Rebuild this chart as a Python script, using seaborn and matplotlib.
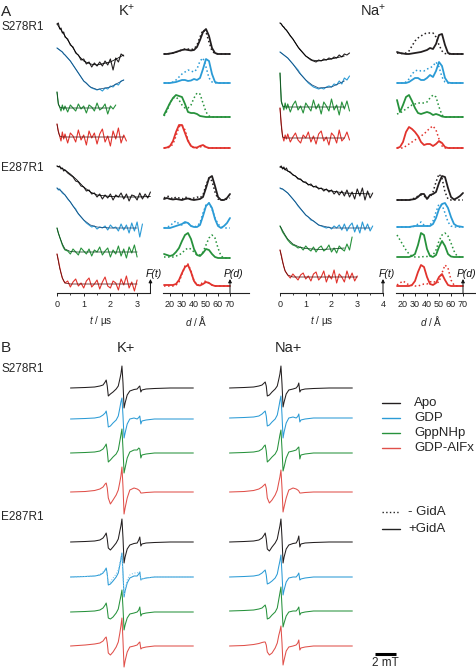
import numpy as np
import matplotlib
matplotlib.use("Agg")
import matplotlib.pyplot as plt
from matplotlib.lines import Line2D
import seaborn as sns

# ====================== DATA ======================
# DEER time axis (µs) and fit sampling
T_GRID = [0, 0.05, 0.1, 0.15, 0.2, 0.25] + [round(0.3 + 0.1 * i, 2) for i in range(35)]
FIT_T = [0, 0.05, 0.1, 0.2, 0.3, 0.5, 0.75, 1.0, 1.25, 1.5, 2.0, 2.5, 3.0, 3.5]
# distance axis (Å)
D_GRID = [15, 17.5, 20, 22.5, 25, 27.5, 30, 32.5, 35, 37.5, 40, 42.5, 45, 47.5,
          50, 52.5, 55, 57.5, 60, 62.5, 65, 67.5, 70]
# cw EPR field axis (mT, relative to centre line)
FIELD_MT = [-5.0, -3.6, -2.7, -2.2, -1.9, -1.7, -1.6, -1.5, -1.4, -1.2, -0.95, -0.65,
            -0.45, -0.3, -0.2, -0.1, 0.0, 0.1, 0.2, 0.4, 0.65, 1.05, 1.35, 1.5, 1.6,
            1.7, 1.8, 2.2, 3.0, 4.5, 6.7]

STATE_LABELS = ["Apo", "GDP", "GppNHp", "GDP-AlFx"]
GIDA_LABELS = ["- GidA", "+GidA"]
IONS_A = ["K$^{+}$", "Na$^{+}$"]
IONS_B = ["K+", "Na+"]
MUTANTS = ["S278R1", "E287R1"]
T_TICKS_K = [0, 1, 2, 3]
T_TICKS_NA = [0, 1, 2, 3, 4]
D_TICKS = [20, 30, 40, 50, 60, 70]

# ---- DEER form factors F(t) (relative amplitude) ----
FT_K_S278_APO = [41, 42, 36, 37, 32, 33, 28, 26, 20, 18, 12, 10, 5, 6, 1, 3, -2, 2, -1, 3, -1, 4, 0, 6, -5, 7, 3, 11, 9]
FT_K_S278_GDP = [42, 41, 40, 39, 38, 36, 35, 32, 29, 25, 21, 17, 13, 9, 7, 4, 2, 1, 0, 1, -1, 2, 1, 4, 3, 6, 5, 9, 10]
FT_K_S278_GNP = [16, 4, 1, -3, 3, -2, 2, -4, 3, 0, -3, 4, -1, 2, -5, 3, 1, -3, 5, -2, 0, 4, -6, 2, -1, 3]
FT_K_S278_ALF = [13, 6, 1, -4, 5, -2, 3, -6, 4, 1, -5, 7, -3, 2, -8, 6, -1, 4, -7, 3, 8, -5, 1, -9, 6, -2, 9, -6, 2, -4]
FIT_K_S278_APO = [41, 39, 37, 33, 29, 21, 11, 4, 1, 0, 3, 10]
FIT_K_S278_GDP = [42, 41, 40, 38, 35, 29, 19, 9, 3, 0.5, 3, 10]
FIT_K_S278_GNP = [16, 4, 1, 0, 0, 0, 0, 0, 0, 0, 0]
FIT_K_S278_ALF = [13, 5, 1, 0, 0, 0, 0, 0, 0, 0, 0, 0]

FT_K_E287_APO = [31, 30, 31, 28, 29, 26, 27, 24, 22, 20, 16, 15, 11, 10, 6, 7, 3, 4, 0, 3, -2, 2, -1, 3, -3, 2, 0, 4, -2, 3, -4, 2, 1, -3, 4, -2, 3, -1, 5]
FT_K_E287_GDP = [40, 38, 39, 37, 35, 34, 33, 29, 26, 22, 19, 14, 11, 8, 5, 3, 1, 2, -1, 1, 0, 2, -2, 3, 0, 1, -3, 4, -2, 3, -5, 5, -3, 6, -9, 4]
FT_K_E287_GNP = [24, 19, 15, 11, 7, 4, 2, 1, -2, 3, 0, -3, 4, 1, -2, 3, -4, 2, 0, 5, -3, 1, 4, -5, 2, -2, 6, -4, 3, -6, 5, -1, 7, -5]
FT_K_E287_ALF = [30, 24, 17, 11, 6, 3, 1, 3, -3, 2, 5, -2, 1, -4, 3, 6, -3, 0, 4, -5, 2, 7, -2, -4, 3, 1, -6, 5, -1, 8, -4, 2, -7, 4]
FIT_K_E287_APO = [31, 30.5, 30, 28.5, 27, 23, 17, 10, 5, 2, 0.5, 0, 0, 0.5]
FIT_K_E287_GDP = [40, 39, 38, 36, 33, 26, 16, 8, 3, 1, 0, 0, 0]
FIT_K_E287_GNP = [24, 19, 15, 8, 3, 0.5, 0, 0, 0, 0, 0, 0, 0]
FIT_K_E287_ALF = [30, 23, 16, 6, 1, 0, 0, 0, 0, 0, 0, 0, 0]

FT_NA_S278_APO = [38, 37, 35, 34, 32, 31, 29, 25, 22, 18, 14, 11, 8, 5, 3, 1, 0, -1, 1, 0, 2, 1, 3, 2, 4, 3, 6, 4, 7, 6, 8]
FT_NA_S278_GDP = [37, 36, 35, 34, 33, 32, 31, 28, 25, 22, 19, 15, 12, 9, 6, 4, 2, 1, 0, 1, 0, 2, 3, 2, 5, 4, 8, 5, 11, 9, 13]
FT_NA_S278_GNP = [34, 6, 2, -3, 4, -2, 3, -5, 2, 6, -3, 1, -6, 4, 0, -4, 7, -2, 3, -7, 5, 1, -4, 8, -3, 2, -8, 5, -2, 6, -4]
FT_NA_S278_ALF = [30, 14, 2, -3, 3, -1, 4, -4, 1, 5, -2, -5, 3, 0, 6, -4, 2, -6, 4, 7, -3, 1, -7, 5, 2, -5, 8, -3, 0, 6, -2]
FIT_NA_S278_APO = [38, 37, 35, 32, 29, 22, 12, 5, 1, 0, 2, 5]
FIT_NA_S278_GDP = [37, 36, 35, 33, 31, 25, 16, 9, 4, 1, 2, 8]
FIT_NA_S278_GNP = [34, 5, 1, 0, 0, 0, 0, 0, 0, 0, 0, 0]
FIT_NA_S278_ALF = [30, 12, 1, 0, 0, 0, 0, 0, 0, 0, 0, 0]

FT_NA_E287_APO = [27, 28, 25, 27, 24, 26, 23, 22, 19, 18, 15, 15, 12, 12, 9, 10, 7, 8, 5, 6, 3, 5, 2, 4, 0, 3, -1, 3, -2, 4, -3, 2, -5, 5, -2, 6, -6, 3, -4, 1]
FT_NA_E287_GDP = [40, 39, 39, 38, 37, 36, 35, 32, 29, 26, 22, 19, 16, 13, 11, 8, 7, 5, 3, 2, 1, 0, 1, -1, 2, 0, 3, -2, 4, -3, 2, 5, -4, 3, -5, 6, -2, 4, -3, 2]
FT_NA_E287_GNP = [23, 20, 17, 15, 13, 11, 9, 6, 4, 3, 1, 2, -1, 3, 0, -2, 2, -3, 1, 3, -2, 0, 4, -3, 1, -4, 3, 0, -2, 5, -1, 12]
FT_NA_E287_ALF = [27, 22, 16, 10, 6, 4, 2, -1, 3, 0, -3, 2, 4, -2, 1, -4, 3, 5, -3, 0, 6, -5, 2, -2, 7, -6, 3, 0, -5, 6, -2, 4, -4, 1]
FIT_NA_E287_APO = [27, 26.5, 26, 24.5, 23, 19.5, 15, 11, 8, 6, 3, 1, 0.5, 0]
FIT_NA_E287_GDP = [40, 39.5, 39, 37, 35, 29, 21, 13, 8, 3, 0, 0, 0, 0]
FIT_NA_E287_GNP = [23, 21, 18.5, 14, 10, 5, 2, 0.5, 0, -0.5, 0, 1]
FIT_NA_E287_ALF = [27, 21, 15, 6, 2, 0, 0, 0, 0, 0, 0, 0, 0]

# ---- distance distributions P(d): PD = +GidA (solid), PDX = -GidA (dotted) ----
PD_K_S278_APO = [0, 0, 0.5, 1, 2, 3, 4, 4.5, 4, 3.5, 4, 7, 14, 22, 25, 18, 6, 1, 0, 0, 0, 0, 0]
PDX_K_S278_APO = [0, 0, 0.5, 1, 2, 3, 4, 5, 5, 4.5, 5, 9, 17, 24, 22, 12, 3, 0.5, 0, 0, 0, 0, 0]
PD_K_S278_GDP = [0, 0, 0, 0.5, 1, 2, 3, 3, 2, 2.5, 4, 3, 5, 14, 24, 22, 9, 1, 0, 0, 0, 0, 0]
PDX_K_S278_GDP = [0, 0, 0, 1, 3, 6, 9, 11, 13, 12, 11, 14, 22, 25, 16, 5, 1, 0, 0, 0, 0, 0, 0]
PD_K_S278_GNP = [2, 8, 14, 19, 22, 21, 20, 13, 5, 4, 4, 3, 1, 0.5, 0, 0, 0, 0, 0, 0, 0, 0, 0]
PDX_K_S278_GNP = [1, 6, 14, 19, 20, 17, 12, 9, 9, 12, 19, 24, 23, 14, 5, 1, 0, 0, 0, 0, 0, 0, 0]
PD_K_S278_ALF = [0, 0.5, 2, 7, 16, 23, 23, 15, 7, 2, 0.5, 0.5, 2, 3, 1, 0, 0, 0, 0, 0, 0, 0, 0]
PDX_K_S278_ALF = [0, 0, 1, 4, 12, 21, 23, 18, 8, 2, 0, 0, 1, 2, 1, 0, 0, 0, 0, 0, 0, 0, 0]

PD_K_E287_APO = [1, 2, 1, 0.5, 1, 0.5, 0, 1, 1.5, 0.5, 0, 0.5, 1, 3, 12, 22, 24, 14, 3, 0, 0, 2, 6]
PDX_K_E287_APO = [2, 4, 3, 1, 3, 2, 1, 3, 2, 1, 2, 3, 2, 5, 15, 22, 19, 8, 1, 0, 0, 1, 2]
PD_K_E287_GDP = [0, 0, 0, 1, 2, 3, 4, 6, 5, 2, 1, 1, 3, 12, 22, 25, 20, 9, 2, 0, 2, 5, 10]
PDX_K_E287_GDP = [0, 1, 2, 5, 7, 4, 3, 5, 5, 2, 1, 2, 5, 15, 23, 25, 19, 10, 4, 1, 0, 0, 0]
PD_K_E287_GNP = [4, 3, 2, 3, 6, 10, 17, 23, 25, 19, 9, 3, 2, 5, 9, 8, 4, 1, 0, 0, 0, 0, 0]
PDX_K_E287_GNP = [1, 1, 1, 1, 2, 3, 5, 8, 10, 9, 6, 3, 3, 6, 13, 20, 23, 20, 10, 2, 0, 0, 0]
PD_K_E287_ALF = [1, 1, 1, 1, 2, 6, 13, 19, 21, 14, 5, 1, 0.5, 2, 4, 3, 1, 0, 0, 0, 0, 0, 0]
PDX_K_E287_ALF = [0, 0, 0, 0, 1, 4, 12, 20, 22, 15, 5, 1, 1, 4, 5, 3, 1, 0, 0, 0, 0, 0, 0]

PD_NA_S278_APO = [2, 1, 0.5, 0, 0, 0.5, 1, 1.5, 2, 3, 4, 6, 5, 10, 19, 20, 9, 1, 0, 0, 0, 0, 0]
PDX_NA_S278_APO = [1, 0.5, 0.5, 1, 3, 8, 13, 16, 18, 20, 21, 21, 21, 17, 9, 3, 0.5, 0, 0, 0, 0, 0, 0]
PD_NA_S278_GDP = [0, 0, 0, 0, 1, 3, 5, 5, 3, 3, 5, 8, 6, 12, 21, 17, 5, 0.5, 0, 0, 0, 0, 0]
PDX_NA_S278_GDP = [0, 0, 0, 1, 4, 9, 12, 13, 12, 12, 14, 15, 17, 21, 16, 6, 1, 0, 0, 0, 0, 0, 0]
PD_NA_S278_GNP = [17, 5, 12, 20, 22, 16, 9, 4, 3, 4, 5, 4, 2, 3, 2, 0.5, 0, 0, 0, 0, 0, 0, 0]
PDX_NA_S278_GNP = [3, 4, 6, 8, 10, 12, 13, 14, 14, 14, 15, 19, 22, 20, 10, 2, 0, 0, 0, 0, 0, 0, 0]
PD_NA_S278_ALF = [0, 1, 6, 16, 21, 19, 16, 12, 6, 3, 4, 4, 2, 4, 7, 5, 1, 0, 0, 0, 0, 0, 0]
PDX_NA_S278_ALF = [0, 0, 0, 2, 4, 6, 8, 10, 12, 14, 17, 20, 22, 18, 9, 2, 0, 0, 0, 0, 0, 0, 0]

PD_NA_E287_APO = [0, 0, 0, 0, 0, 0.5, 1, 3, 6, 6, 1, 5, 6, 8, 17, 24, 23, 12, 3, 0.5, 2, 4, 7]
PDX_NA_E287_APO = [0, 0, 0, 0, 0, 1, 2, 4, 5, 4, 2, 3, 8, 18, 26, 22, 8, 1, 0, 0, 0, 0, 0]
PD_NA_E287_GDP = [0, 0, 0, 0, 0, 0.5, 1, 1, 1, 1, 1, 1, 3, 9, 18, 23, 24, 19, 10, 3, 1, 0.5, 0]
PDX_NA_E287_GDP = [0, 0, 0, 0, 0, 0, 1, 3, 5, 2, 1, 2, 6, 15, 23, 22, 14, 5, 1, 0, 0, 0, 0]
PD_NA_E287_GNP = [0, 0, 0, 0, 0, 1, 3, 12, 24, 22, 8, 1, 0, 2, 10, 16, 11, 3, 0.5, 0, 0, 0, 0]
PDX_NA_E287_GNP = [22, 17, 12, 7, 3, 1, 0, 0, 0, 0.5, 0.5, 1, 2, 7, 16, 22, 24, 21, 14, 6, 1, 0, 0]
PD_NA_E287_ALF = [0, 0, 0, 0, 0, 1, 5, 14, 21, 19, 9, 2, 1, 3, 9, 12, 6, 1, 0, 0, 0, 0, 0]
PDX_NA_E287_ALF = [1, 3, 5, 3, 1, 0.5, 0, 0, 1, 2, 2, 4, 5, 3, 4, 13, 21, 18, 6, 1, 0, 0, 0]

# ---- cw EPR spectra (derivative amplitude) ----
EPR_K_S278_APO = [0, 0.5, 1, 2, 3, 6, 8, 2, -8, -6, -4, -1, 2, 9, 14, 22, 5, -20, -15, -7, -3, -1.5, -1, 1, 2, -4, -2, -1, -0.5, 0, 0]
EPR_K_S278_GDP = [0, 0.5, 1, 2, 4, 6, 8, 2, -8, -7, -4, -1, 3, 11, 17, 21, 3, -19, -14, -5, 0, 1, 0, 1.5, 3, -5, -2, -1, 0, 0, 0]
EPR_K_S278_GNP = [0, 0.5, 1, 2, 4, 7, 9, 2, -9, -7, -4, -1, 3, 12, 18, 24, 4, -20, -15, -5, 1, 3, 3, 5, 4, -5, -2, -1, 0, 0, 0]
EPR_K_S278_ALF = [0, 0.5, 1.5, 3, 5, 8, 9, 4, -6, -12, -8, -3, 2, 10, 16, 25, 5, -22, -16, -6, 2, 4, 3, 2, 1, -1, -1, -0.5, 0, 0, 0]
EPR_K_E287_APO = [0, 0.5, 1, 2, 4, 7, 9, 3, -6, -8, -5, -1, 3, 11, 16, 23, 4, -21, -15, -7, -3, -1.5, -1, 2, 5, -4, -2, -1, -0.5, 0, 0]
EPR_K_E287_GDP = [0, 0.5, 1, 2, 4, 7, 9, 3, -8, -7, -4, 0, 4, 12, 18, 24, 4, -20, -14, -6, -1, 1, 1, 3, 5, -3, -2, -1, 0, 0, 0]
EPRX_K_E287_GDP = [0, 0.5, 1, 2.5, 5, 7, 7, 2, -6, -5, -1, 3, 7, 14, 19, 22, 2, -18, -12, -3, 2, 4, 4, 5, 5, -3, -2, -1, 0, 0, 0]
EPR_K_E287_GNP = [0, 0.5, 1, 2, 4, 7, 9, 3, -6, -7, -5, -1, 3, 11, 16, 22, 4, -18, -13, -6, -2, -1, 0, 2, 5, -4, -2, -1, 0, 0, 0]
EPR_K_E287_ALF = [0, 1, 2, 3, 5, 8, 9, 3, -7, -9, -6, -1, 4, 13, 20, 28, 5, -21, -15, -6, -1, 0, 1, 3, 4, -3, -2, -1, 0, 0, 0]
EPR_NA_S278_APO = [0, 0.5, 1, 2, 3, 5, 6, 2, -8, -7, -4, -1, 2, 9, 14, 22, 4, -19, -14, -6, -2, -1, 0, 2, 5, -4, -2, -1, -0.5, 0, 0]
EPR_NA_S278_GDP = [0, 0.5, 1, 2, 4, 6, 7, 2, -8, -7, -4, -1, 3, 11, 17, 22, 3, -20, -14, -5, 0, 1, 0, 1.5, 4, -4, -2, -1, 0, 0, 0]
EPR_NA_S278_GNP = [0, 0.5, 1, 2, 4, 7, 8, 2, -9, -7, -4, -1, 3, 12, 18, 23, 4, -18, -14, -5, 1, 2, 3, 5, 6, -6, -2, -1, 0, 0, 0]
EPR_NA_S278_ALF = [0, 0.5, 1.5, 3, 5, 7, 8, 4, -6, -11, -8, -3, 2, 10, 15, 22, 4, -20, -15, -6, 2, 4, 3, 2, 1, -1, -1, -0.5, 0, 0, 0]
EPR_NA_E287_APO = [0, 0.5, 1, 2, 4, 7, 9, 3, -7, -9, -5, -1, 3, 11, 16, 23, 4, -21, -15, -7, -3, -1.5, -1, 2, 6, -5, -2, -1, -0.5, 0, 0]
EPR_NA_E287_GDP = [0, 0.5, 1, 2, 4, 6, 7, 2, -7, -6, -4, -1, 3, 11, 16, 22, 3, -18, -13, -5, -1, 0, 0, 2, 4, -3, -2, -1, 0, 0, 0]
EPR_NA_E287_GNP = [0, 0.5, 1, 2, 3, 5, 6, 2, -8, -7, -4, -1, 3, 12, 18, 24, 4, -16, -12, -5, -1, 0, 0, 2, 4, -4, -2, -1, 0, 0, 0]
EPR_NA_E287_ALF = [0, 0.5, 1.5, 2.5, 3.5, 4, 4, 1, -6, -9, -7, -2, 3, 11, 15, 20, 3, -19, -14, -5, -1, 0, 1, 3, 6, -4, -2, -1, 0, 0, 0]

# ====================== STYLE / LAYOUT ======================
W, H = 477, 668
COLORS = ["#231f20", "#2b9bd6", "#27923c", "#e2332d"]
FIT_COLORS = ["#000000", "#1c4a78", "#0f4a1f", "#5a0f0f"]
EPR_COLORS = ["#231f20", "#2b9bd6", "#27923c", "#e0504a"]

sns.set_theme(style="ticks")
plt.rcParams["font.family"] = ["Liberation Sans", "DejaVu Sans"]
plt.rcParams["mathtext.fontset"] = "custom"
plt.rcParams["mathtext.rm"] = "Liberation Sans"
plt.rcParams["mathtext.it"] = "Liberation Sans:italic"
plt.rcParams["mathtext.default"] = "regular"

fig = plt.figure(figsize=(W / 100, H / 100), dpi=100)


def fx(x):
    return x / W


def fy(y):
    return 1 - y / H


def add_ax(x0, x1, y0, y1):
    ax = fig.add_axes([fx(x0), fy(y1), (x1 - x0) / W, (y1 - y0) / H])
    ax.set_facecolor("none")
    return ax


def draw(ax, x, y, color, lw, ls="-"):
    sns.lineplot(x=np.asarray(x, float), y=np.asarray(y, float), ax=ax, color=color,
                 linewidth=lw, linestyle=ls, estimator=None, sort=False,
                 clip_on=False, legend=False)


# ---------- Part A ----------
AXIS_Y = 293
ax_kf = add_ax(40, 160, 0, AXIS_Y)
ax_kp = add_ax(160, 252, 0, AXIS_Y)
ax_nf = add_ax(262, 395, 0, AXIS_Y)
ax_np = add_ax(395, 477, 0, AXIS_Y)

FT_PANELS = [
    (ax_kf, [FT_K_S278_APO, FT_K_S278_GDP, FT_K_S278_GNP, FT_K_S278_ALF],
     [FIT_K_S278_APO, FIT_K_S278_GDP, FIT_K_S278_GNP, FIT_K_S278_ALF], [65, 90, 108, 137]),
    (ax_kf, [FT_K_E287_APO, FT_K_E287_GDP, FT_K_E287_GNP, FT_K_E287_ALF],
     [FIT_K_E287_APO, FIT_K_E287_GDP, FIT_K_E287_GNP, FIT_K_E287_ALF], [197, 228, 252, 284]),
    (ax_nf, [FT_NA_S278_APO, FT_NA_S278_GDP, FT_NA_S278_GNP, FT_NA_S278_ALF],
     [FIT_NA_S278_APO, FIT_NA_S278_GDP, FIT_NA_S278_GNP, FIT_NA_S278_ALF], [61, 89, 107, 138]),
    (ax_nf, [FT_NA_E287_APO, FT_NA_E287_GDP, FT_NA_E287_GNP, FT_NA_E287_ALF],
     [FIT_NA_E287_APO, FIT_NA_E287_GDP, FIT_NA_E287_GNP, FIT_NA_E287_ALF], [194, 228, 249, 277]),
]
for ax, traces, fits, bases in FT_PANELS:
    for i, (tr, ft, b) in enumerate(zip(traces, fits, bases)):
        draw(ax, T_GRID[:len(tr)], [b - v for v in tr], COLORS[i], 0.8)
        draw(ax, FIT_T[:len(ft)], [b - v for v in ft], FIT_COLORS[i], 0.55)

PD_PANELS = [
    (ax_kp, [PD_K_S278_APO, PD_K_S278_GDP, PD_K_S278_GNP, PD_K_S278_ALF],
     [PDX_K_S278_APO, PDX_K_S278_GDP, PDX_K_S278_GNP, PDX_K_S278_ALF], [54, 83, 117, 148]),
    (ax_kp, [PD_K_E287_APO, PD_K_E287_GDP, PD_K_E287_GNP, PD_K_E287_ALF],
     [PDX_K_E287_APO, PDX_K_E287_GDP, PDX_K_E287_GNP, PDX_K_E287_ALF], [200, 228, 258, 286]),
    (ax_np, [PD_NA_S278_APO, PD_NA_S278_GDP, PD_NA_S278_GNP, PD_NA_S278_ALF],
     [PDX_NA_S278_APO, PDX_NA_S278_GDP, PDX_NA_S278_GNP, PDX_NA_S278_ALF], [54, 83, 117, 148]),
    (ax_np, [PD_NA_E287_APO, PD_NA_E287_GDP, PD_NA_E287_GNP, PD_NA_E287_ALF],
     [PDX_NA_E287_APO, PDX_NA_E287_GDP, PDX_NA_E287_GNP, PDX_NA_E287_ALF], [200, 227, 257, 286]),
]
for ax, sol, dot, bases in PD_PANELS:
    for i, (s, d, b) in enumerate(zip(sol, dot, bases)):
        draw(ax, D_GRID, [b - v for v in d], COLORS[i], 1.1, ":")
        draw(ax, D_GRID, [b - v for v in s], COLORS[i], 1.3)


def xlim_from_px(ax, x0, x1, origin_px, origin_val, scale):
    ax.set_xlim(origin_val + (x0 - origin_px) / scale, origin_val + (x1 - origin_px) / scale)


xlim_from_px(ax_kf, 40, 160, 57, 0, 26.7)
xlim_from_px(ax_kp, 160, 252, 170, 20, 1.2)
xlim_from_px(ax_nf, 262, 395, 280, 0, 25.75)
xlim_from_px(ax_np, 395, 477, 403, 20, 1.2)

# (axis, major ticks, minor ticks, spine bounds, arrow position, label, px per unit)
AX_SPECS = [
    (ax_kf, T_TICKS_K, [0.5, 1.5, 2.5], (0, 3.5), 3.5, "F(t)", 26.7),
    (ax_nf, T_TICKS_NA, [0.5, 1.5, 2.5, 3.5], (0, 4), 4, "F(t)", 25.75),
    (ax_kp, D_TICKS, [], (14.2, 86), 70, "P(d)", 1.2),
    (ax_np, D_TICKS, [], (14.5, 82), 70, "P(d)", 1.2),
]
for ax, ticks, minor, bounds, arrow_x, lab, scale in AX_SPECS:
    ax.set_ylim(AXIS_Y, 0)
    for side in ["left", "right", "top"]:
        ax.spines[side].set_visible(False)
    ax.spines["bottom"].set_bounds(*bounds)
    ax.spines["bottom"].set_linewidth(0.8)
    ax.spines["bottom"].set_color("#222222")
    ax.set_yticks([])
    ax.set_xticks(ticks)
    ax.set_xticks(minor, minor=True)
    ax.set_xticklabels([str(t) for t in ticks])
    ax.tick_params(axis="x", which="major", bottom=True, direction="out", length=2.5,
                   width=0.7, labelsize=6.5, pad=2.5, colors="#222222")
    ax.tick_params(axis="x", which="minor", bottom=True, direction="out", length=1.5,
                   width=0.6, colors="#222222")
    ax.set_xlabel("")
    ax.set_ylabel("")
    ax.annotate("", xy=(arrow_x, AXIS_Y - 14), xytext=(arrow_x, AXIS_Y),
                arrowprops=dict(arrowstyle="-|>", color="#111111", lw=0.7,
                                mutation_scale=5, shrinkA=0, shrinkB=0),
                annotation_clip=False)
    ax.text(arrow_x + 3.5 / scale, AXIS_Y - 19, lab, fontsize=7.5, style="italic",
            ha="center", va="center", color="#111111", clip_on=False)

# axis titles under part A
fig.text(fx(101), fy(321), r"$\mathit{t}$ / µs", fontsize=7.2, ha="center", va="center")
fig.text(fx(196), fy(321), r"$\mathit{d}$ / Å", fontsize=7.2, ha="center", va="center")
fig.text(fx(322), fy(321), r"$\mathit{t}$ / µs", fontsize=7.2, ha="center", va="center")
fig.text(fx(431), fy(321), r"$\mathit{d}$ / Å", fontsize=7.2, ha="center", va="center")

# panel labels part A
fig.text(fx(1), fy(12), "A", fontsize=11, ha="left", va="center")
fig.text(fx(127), fy(11), IONS_A[0], fontsize=10.5, ha="center", va="center")
fig.text(fx(373), fy(11), IONS_A[1], fontsize=10.5, ha="center", va="center")
fig.text(fx(1), fy(27), MUTANTS[0], fontsize=8.5, ha="left", va="center")
fig.text(fx(1), fy(168), MUTANTS[1], fontsize=8.5, ha="left", va="center")

# ---------- Part B ----------
ax_bk = add_ax(60, 215, 340, 668)
ax_bn = add_ax(215, 477, 340, 668)
ax_bk.set_xlim((60 - 123) / 10.5, (215 - 123) / 10.5)
ax_bn.set_xlim((215 - 282) / 10.5, (477 - 282) / 10.5)

EPR_PANELS = [
    (ax_bk, [EPR_K_S278_APO, EPR_K_S278_GDP, EPR_K_S278_GNP, EPR_K_S278_ALF], [388, 419, 453, 492]),
    (ax_bk, [EPR_K_E287_APO, EPR_K_E287_GDP, EPR_K_E287_GNP, EPR_K_E287_ALF], [542, 577, 612, 646]),
    (ax_bn, [EPR_NA_S278_APO, EPR_NA_S278_GDP, EPR_NA_S278_GNP, EPR_NA_S278_ALF], [388, 418, 453, 492]),
    (ax_bn, [EPR_NA_E287_APO, EPR_NA_E287_GDP, EPR_NA_E287_GNP, EPR_NA_E287_ALF], [542, 577, 611, 646]),
]
for ax, specs, bases in EPR_PANELS:
    for i, (s, b) in enumerate(zip(specs, bases)):
        draw(ax, FIELD_MT, [b - v for v in s], EPR_COLORS[i], 0.75)
draw(ax_bk, FIELD_MT, [577 - v for v in EPRX_K_E287_GDP], "#7cc3ea", 0.75, ":")

for ax in (ax_bk, ax_bn):
    ax.set_ylim(668, 340)
    for sp in ax.spines.values():
        sp.set_visible(False)
    ax.set_xticks([])
    ax.set_yticks([])
    ax.set_xlabel("")
    ax.set_ylabel("")

# scale bar: 2 mT
bar_start = (375 - 282) / 10.5
ax_bn.plot([bar_start, bar_start + 2], [654, 654], color="black", lw=2.2,
           solid_capstyle="butt", clip_on=False)
ax_bn.text(bar_start + 1, 663, "2 mT", fontsize=8.5, ha="center", va="center")

# legends
for i, (lab, col) in enumerate(zip(STATE_LABELS, EPR_COLORS)):
    y = 403 + 15 * i
    fig.add_artist(Line2D([fx(382), fx(400)], [fy(y), fy(y)], color=col, lw=1.0))
    fig.text(fx(414), fy(y), lab, fontsize=9.5, ha="left", va="center")
for i, (lab, ls) in enumerate(zip(GIDA_LABELS, [":", "-"])):
    y = 512 + 17 * i
    fig.add_artist(Line2D([fx(382), fx(400)], [fy(y), fy(y)], color="#222222",
                          lw=1.0, linestyle=ls))
    fig.text(fx(408), fy(y), lab, fontsize=9.5, ha="left", va="center")

fig.text(fx(1), fy(348), "B", fontsize=11, ha="left", va="center")
fig.text(fx(126), fy(348), IONS_B[0], fontsize=10.5, ha="center", va="center")
fig.text(fx(288), fy(348), IONS_B[1], fontsize=10.5, ha="center", va="center")
fig.text(fx(1), fy(369), MUTANTS[0], fontsize=8.5, ha="left", va="center")
fig.text(fx(1), fy(517), MUTANTS[1], fontsize=8.5, ha="left", va="center")

fig.savefig("out.png", dpi=100)
